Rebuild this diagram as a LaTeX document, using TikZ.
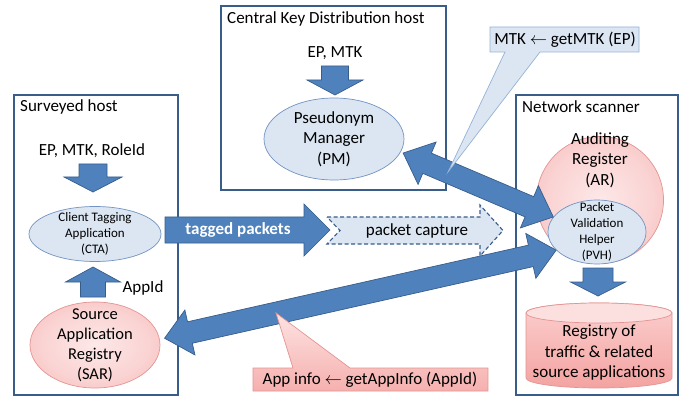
\documentclass[tikz,border=0pt]{standalone}
\usepackage{fontspec}
\setmainfont{Carlito}
\usetikzlibrary{calc,shapes.geometric}
\definecolor{arrowfill}{HTML}{4F81BD}
\definecolor{arrowline}{HTML}{385D8A}
\definecolor{boxline}{HTML}{385D8A}
\definecolor{lightblue}{HTML}{DCE6F2}
\definecolor{ellline}{HTML}{7393C2}
\definecolor{pinkin}{HTML}{FDE8E8}
\definecolor{pinkout}{HTML}{F3A5A3}
\definecolor{pinkline}{HTML}{E39593}
\definecolor{calloutline}{HTML}{95B3D7}
\definecolor{cylTop}{HTML}{FBCFCE}
\definecolor{cylBot}{HTML}{F3A3A1}
\definecolor{cylCap}{HTML}{FCE0DF}
\definecolor{calTop}{HTML}{FDE3E2}
\definecolor{calBot}{HTML}{F5B0AE}
\pgfdeclareradialshading{pinkrad}{\pgfpoint{0bp}{0bp}}{color(0bp)=(pinkin); color(20bp)=(pinkin!70!pinkout); color(50bp)=(pinkout); color(75bp)=(pinkout)}
\newcommand\singlearrow[5]{%
 \filldraw[blockarrow] ($(#1)!#3!90:(#2)$) -- ($(#2)!#5!(#1)!#3!270:(#1)$) -- ($(#2)!#5!(#1)!#4!270:(#1)$) -- (#2) -- ($(#2)!#5!(#1)!#4!90:(#1)$) -- ($(#2)!#5!(#1)!#3!90:(#1)$) -- ($(#1)!#3!270:(#2)$) -- cycle;}
\newcommand\doublearrow[5]{%
 \filldraw[blockarrow] (#1) -- ($(#1)!#5!(#2)!#4!90:(#2)$) -- ($(#1)!#5!(#2)!#3!90:(#2)$) -- ($(#2)!#5!(#1)!#3!270:(#1)$) -- ($(#2)!#5!(#1)!#4!270:(#1)$) -- (#2) -- ($(#2)!#5!(#1)!#4!90:(#1)$) -- ($(#2)!#5!(#1)!#3!90:(#1)$) -- ($(#1)!#5!(#2)!#3!270:(#2)$) -- ($(#1)!#5!(#2)!#4!270:(#2)$) -- cycle;}
\begin{document}
\begin{tikzpicture}[x=1pt,y=-1pt,
 hostbox/.style={draw=boxline,line width=1.9pt,fill=white,inner sep=0,anchor=north west},
 hostlabel/.style={anchor=west,inner sep=0,font=\fontsize{17}{20}\selectfont},
 txt/.style={align=center,inner sep=0,font=\fontsize{17}{20.5}\selectfont},
 sartxt/.style={align=center,inner sep=0,font=\fontsize{16.5}{20}\selectfont},
 smalltxt/.style={align=center,inner sep=0,font=\fontsize{13}{16.2}\selectfont},
 blueell/.style={ellipse,draw=ellline,line width=0.7pt,fill=lightblue,inner sep=0},
 pinkell/.style={ellipse,draw=pinkline,line width=0.7pt,shade,shading=pinkrad,inner sep=0},
 blockarrow/.style={fill=arrowfill,draw=arrowline,line width=0.7pt,line join=miter}]
\useasboundingbox[fill=white] (0,0) rectangle (686,401);

% host boxes
\node[hostbox,minimum width=164,minimum height=300] (sh) at (13,94) {};
\node[hostbox,minimum width=225,minimum height=184] (ckd) at (220,5) {};
\node[hostbox,minimum width=162,minimum height=300] (ns) at (515,94) {};
\node[hostlabel] (shl) at (20,107) {Surveyed host};
\node[hostlabel] (ckdl) at (227,19) {Central Key Distribution host};
\node[hostlabel] (nsl) at (522,107) {Network scanner};

% inputs
\node[txt] (in1) at (92,151) {EP, MTK, RoleId};
\node[txt] (in2) at (335,53) {EP, MTK};
\node[txt] (appid) at (143,288) {AppId};

% components
\node[blueell,minimum width=132,minimum height=55,
  label={[smalltxt]center:Client Tagging\\Application\\(CTA)}] (cta) at (95,234) {};
\node[pinkell,minimum width=130,minimum height=86,
  label={[sartxt]center:Source\\Application\\Registry\\(SAR)}] (sar) at (95,345) {};
\node[blueell,minimum width=140,minimum height=82,
  label={[txt]center:Pseudonym\\Manager\\(PM)}] (pm) at (334,139) {};
\node[pinkell,circle,minimum size=127] (ar) at (600,200) {};
\node[txt] (arl) at (600,160) {Auditing\\Register\\(AR)};

% registry cylinder
\shade[top color=cylTop,bottom color=cylBot,draw=pinkline,line width=0.7pt]
  (526,313) -- (526,378) arc(180:0:73 and 10) -- (672,313) arc(0:-180:73 and 10) -- cycle;
\draw[pinkline,line width=0.7pt,fill=cylCap] (599,313) ellipse (73 and 10);
\node[txt] (reg) at (599,353) {Registry of\\traffic \& related\\source applications};

% small block arrows
\coordinate (a1s) at (93,164); \coordinate (a1e) at (93,192);
\singlearrow{a1s}{a1e}{14pt}{29pt}{15pt}
\coordinate (a2s) at (93,297); \coordinate (a2e) at (93,267);
\singlearrow{a2s}{a2e}{12.5pt}{27.5pt}{15pt}
\coordinate (a3s) at (335,66); \coordinate (a3e) at (335,95);
\singlearrow{a3s}{a3e}{13.5pt}{28pt}{15pt}
\coordinate (a4s) at (598,268); \coordinate (a4e) at (598,296);
\singlearrow{a4s}{a4e}{15pt}{27.5pt}{14pt}

% packet capture (dashed)
\filldraw[fill=lightblue,draw=boxline,line width=1.1pt,dash pattern=on 4pt off 2.5pt,line join=miter]
  (327,217) -- (480,217) -- (480,205) -- (503,230.5) -- (480,256) -- (480,244) -- (327,244) -- (340,230.5) -- cycle;
\node[txt] (pc) at (417,231) {packet capture};

% tagged packets
\coordinate (tps) at (165,230); \coordinate (tpe) at (330,230);
\singlearrow{tps}{tpe}{13pt}{26pt}{26pt}
\node[txt,text=white,font=\fontsize{17}{20}\selectfont\bfseries] (tp) at (238,230) {tagged packets};

% PVH
\node[blueell,minimum width=98,minimum height=64,
  label={[smalltxt]center:Packet\\Validation\\Helper\\(PVH)}] (pvh) at (597,232) {};

% big double arrows
\coordinate (pmtip) at ($(pm.-12)+(3,0)$);
\coordinate (sartip) at ($(sar.6)+(5,0)$);
\doublearrow{pmtip}{pvh.161}{11pt}{23pt}{26pt}
\doublearrow{sartip}{pvh.204}{11pt}{23pt}{26pt}

% callouts
\coordinate (mtktip) at (448,172);
\filldraw[fill=lightblue,draw=calloutline,line width=0.7pt]
  (490,27) -- (639,27) -- (639,52) -- (540,52) -- (mtktip) -- (505,52) -- (490,52) -- cycle;
\node[txt] (mtk) at (565,39.5) {MTK $\leftarrow$ getMTK (EP)};
\coordinate (apptip) at (276,313);
\shade[top color=calTop,bottom color=calBot,draw=pinkline,line width=0.7pt]
  (253,368) -- (293,368) -- (apptip) -- (350,368) -- (488,368) -- (488,391) -- (253,391) -- cycle;
\node[txt] (appinfo) at (370,380) {App info $\leftarrow$ getAppInfo (AppId)};
\end{tikzpicture}
\end{document}
